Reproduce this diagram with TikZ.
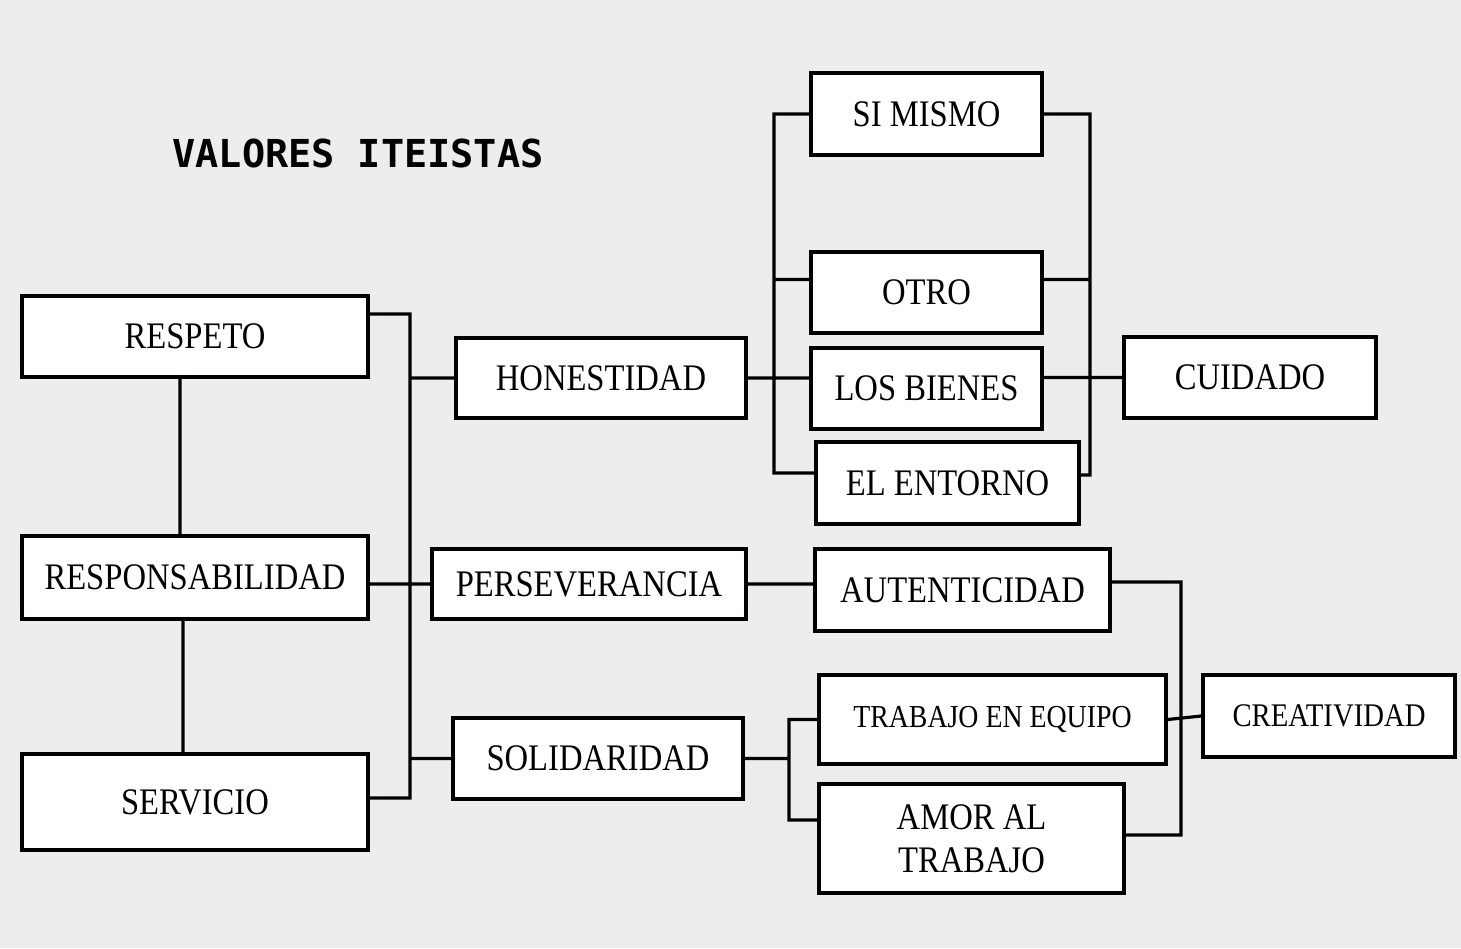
\documentclass[tikz,border=0pt]{standalone}
\usepackage{fontspec}
\setmainfont{Liberation Serif}[FakeStretch=0.87]
\newfontfamily\titulo{DejaVu Sans Mono}
\usepackage{tikz}
\usepackage{xcolor}
\usetikzlibrary{calc,positioning}
\definecolor{fondo}{RGB}{236,238,236}

\begin{document}
\begin{tikzpicture}[x=1pt, y=-1pt,
    caja/.style={draw, fill=white, line width=3.3pt, inner sep=0pt, align=center,
        font=\fontsize{37.5}{43}\selectfont},
    linea/.style={line width=3.2pt}]
                                \fill[fondo] (0, 0) rectangle (1461, 948);
                                \useasboundingbox (0, 0) rectangle (1461, 948);
                                \node[font=\titulo\bfseries\fontsize{38.5}{44}\selectfont] (tit) at (358, 153) {VALORES ITEISTAS};
                                \node[caja, minimum width=346, minimum height=81] (r) at (195, 336.5) {RESPETO};
                                \node[caja, minimum width=346, minimum height=83] (rp) at (195, 577.5) {RESPONSABILIDAD};
                                \node[caja, minimum width=346, minimum height=96] (s) at (195, 802) {SERVICIO};
                                \node[caja, minimum width=290, minimum height=80] (h) at (601, 378) {HONESTIDAD};
                                \node[caja, minimum width=314, minimum height=70] (p) at (589, 584) {PERSEVERANCIA};
                                \node[caja, minimum width=290, minimum height=81] (so) at (598, 758.5) {SOLIDARIDAD};
                                \node[caja, minimum width=231, minimum height=82] (hs) at (926.5, 114) {SI MISMO};
                                \node[caja, minimum width=231, minimum height=81] (ho) at (926.5, 292.5) {OTRO};
                                \node[caja, minimum width=231, minimum height=81] (hb) at (926.5, 388.5) {LOS BIENES};
                                \node[caja, minimum width=263, minimum height=82] (he) at (947.5, 483) {EL ENTORNO};
                                \node[caja, minimum width=252, minimum height=81] (c) at (1250, 377.5) {CUIDADO};
                                \node[caja, minimum width=295, minimum height=82] (pa) at (962.5, 590) {AUTENTICIDAD};
                                \node[caja, minimum width=347, minimum height=89,
                                    font=\fontsize{32}{37}\selectfont] (st) at (992.5, 719.5) {TRABAJO EN EQUIPO};
                                \node[caja, minimum width=305, minimum height=109] (sa) at (971.5, 838.5) {AMOR AL\\TRABAJO};
                                \node[caja, minimum width=252, minimum height=82,
                                    font=\fontsize{33}{38}\selectfont] (cr) at (1329, 716) {CREATIVIDAD};
                                \coordinate (b1) at (410, 314);
                                \coordinate (b2) at (410, 798);
                                \coordinate (l1) at (774, 116);
                                \coordinate (l2) at (774, 473);
                                \coordinate (d1) at (1090, 116);
                                \coordinate (d2) at (1090, 475);
                                \coordinate (t1) at (789, 820);
                                \coordinate (k1) at (1181, 835);
                                \draw[linea]
                                ([xshift=-15pt]r.south) -- ([xshift=-15pt]rp.north)
                                ([xshift=-12pt]rp.south) -- ([xshift=-12pt]s.north)
                                (r.east |- b1) -- (b1) -- (b2) -- (s.east |- b2)
                                (b1 |- h.west) -- (h.west)
                                (rp.east |- p.west) -- (p.west)
                                (b1 |- so.west) -- (so.west)
                                (hs.west) -| (l2) -- (l2 -| he.west)
                                ([yshift=13pt]ho.west) -- ([yshift=13pt]ho.west -| l1)
                                (h.east) -- (h.east -| hb.west)
                                (hs.east) -| (d2) -- (d2 -| he.east)
                                ([yshift=13pt]ho.east) -- ([yshift=13pt]ho.east -| d1)
                                (hb.east |- c.west) -- (c.west)
                                (p.east) -- (p.east -| pa.west)
                                (so.east) -- (so.east -| t1)
                                (st.west) -| (t1) -- (t1 -| sa.west)
                                ([yshift=8pt]pa.east) -| (k1) -- (k1 -| sa.east)
                                (st.east) -- (cr.west);
                            \end{tikzpicture}
\end{document}
